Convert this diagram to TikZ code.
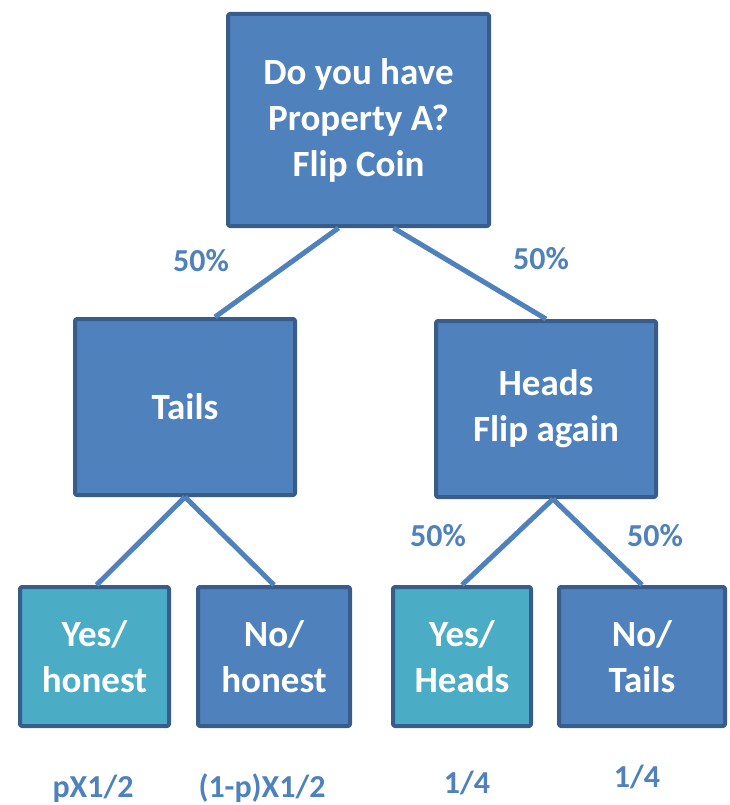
\documentclass[tikz,border=0pt]{standalone}
\usepackage{fontspec}
\setmainfont{Carlito}
\begin{document}
\begin{tikzpicture}[x=1pt, y=-1pt, line join=round,
  box/.style={draw=boxedge, fill=boxblue, line width=4pt, rounded corners=2pt,
    text=white, align=center, inner sep=0pt,
    font=\bfseries\fontsize{37}{46}\selectfont},
  leaf/.style={box, fill=leafteal},
  prob/.style={text=boxblue, anchor=base, inner sep=0pt,
    font=\bfseries\fontsize{32}{38}\selectfont},
  link/.style={draw=boxblue, line width=5pt}]
  \definecolor{boxblue}{RGB}{79,129,189}
  \definecolor{boxedge}{RGB}{56,93,138}
  \definecolor{leafteal}{RGB}{75,172,198}
  \useasboundingbox (0,0) rectangle (729,805);

  % boxes
  \node[box, minimum width=261pt, minimum height=212pt] (coin) at (358.5,120)
    {Do you have\\Property A?\\Flip Coin};
  \node[box, minimum width=220pt, minimum height=176pt] (tails) at (185,407) {Tails};
  \node[box, minimum width=220pt, minimum height=176pt] (heads) at (546,409)
    {Heads\\Flip again};
  \node[leaf, minimum width=149pt, minimum height=139pt] (yeshon) at (94.5,656.5) {Yes/\\honest};
  \node[box, minimum width=152pt, minimum height=139pt] (nohon) at (274,656.5) {No/\\honest};
  \node[leaf, minimum width=138pt, minimum height=139pt] (yeshead) at (462,656.5) {Yes/\\Heads};
  \node[box, minimum width=166pt, minimum height=139pt] (notail) at (642,656.5) {No/\\Tails};

  % connectors
  \draw[link] ([xshift=-20pt]coin.south) -- ([xshift=30pt]tails.north);
  \draw[link] ([xshift=35pt]coin.south) -- (heads.north);
  \draw[link] (tails.south) -- ([xshift=2pt]yeshon.north);
  \draw[link] (tails.south) -- (nohon.north);
  \draw[link] ([xshift=7pt]heads.south) -- (yeshead.north);
  \draw[link] ([xshift=7pt]heads.south) -- (notail.north);

  % probabilities
  \node[prob] (p1) at (201,271) {50\%};
  \node[prob] (p2) at (541,269) {50\%};
  \node[prob] (p3) at (438,546) {50\%};
  \node[prob] (p4) at (655,546) {50\%};
  \node[prob] (r1) at (93,797) {pX1/2};
  \node[prob] (r2) at (262,797) {(1-p)X1/2};
  \node[prob] (r3) at (467,793) {1/4};
  \node[prob] (r4) at (637,787) {1/4};
\end{tikzpicture}
\end{document}
